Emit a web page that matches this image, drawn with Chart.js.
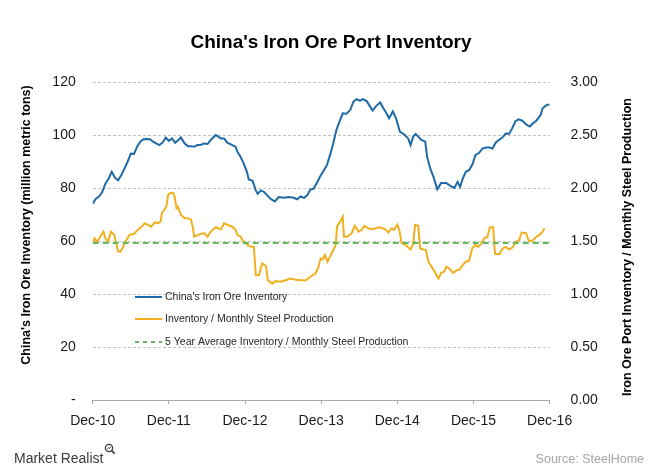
<!DOCTYPE html>
<html><head><meta charset="utf-8">
<script src="https://cdn.jsdelivr.net/npm/chart.js@4.4.0/dist/chart.umd.min.js"></script>
<style>
html,body{margin:0;padding:0;background:#fff;}
#wrap{position:relative;width:660px;height:471px;overflow:hidden;background:#fff;}
#c{position:absolute;left:0;top:0;}
.logo{position:absolute;left:14px;top:450px;font-family:'Liberation Sans',Arial,sans-serif;font-size:14px;color:#3a3a3a;line-height:16px;white-space:nowrap;}
.logo svg{position:absolute;left:90px;top:-7px;}
.src{position:absolute;right:16px;top:451px;font-family:'Liberation Sans',Arial,sans-serif;font-size:12.5px;color:#a6a6a6;line-height:16px;white-space:nowrap;}
</style></head>
<body><div id="wrap"><canvas id="c" width="660" height="471"></canvas>
<div class="logo">Market Realist<svg width="12" height="12" viewBox="0 0 12 12"><circle cx="5" cy="5" r="3.6" fill="none" stroke="#3a3a3a" stroke-width="1.3"/><path d="M3.3 6.2 L4.6 4.6 L5.6 5.4 L6.8 3.8" fill="none" stroke="#3a3a3a" stroke-width="0.9"/><line x1="7.6" y1="7.6" x2="10.8" y2="10.8" stroke="#3a3a3a" stroke-width="1.6"/></svg></div>
<div class="src">Source: SteelHome</div></div>
<script>
// ---- Data (x = months since Dec-10) ----
const chartTitle = "China's Iron Ore Port Inventory";
const leftAxisTitle = "China's Iron Ore Inventory (million metric tons)";
const rightAxisTitle = "Iron Ore Port Inventory / Monthly Steel Production";
const xTickLabels = ['Dec-10','Dec-11','Dec-12','Dec-13','Dec-14','Dec-15','Dec-16'];
const seriesNames = ["China's Iron Ore Inventory", "Inventory / Monthly Steel Production", "5 Year Average Inventory / Monthly Steel Production"];

// China's iron ore inventory (million metric tons)
const inventory = [
 [0,74.1],[0.5,76],[1,76.8],[1.5,78.5],[2,81.6],[2.5,83.5],[3,86.1],[3.5,83.9],[4,82.9],[4.5,84.8],
 [5,87.3],[5.5,89.9],[6,93],[6.5,92.8],[7,95.6],[7.5,97.5],[8,98.4],[8.5,98.5],[9,98.4],[9.5,97.5],
 [10,96.8],[10.5,96.2],[11,97.1],[11.5,99],[12,97.8],[12.5,98.7],[13,97.1],[13.5,98.1],[13.9,99.1],[14.5,96.8],
 [15,95.8],[15.5,95.8],[16,95.6],[16.5,96.2],[17,96.2],[17.5,96.8],[18.1,96.6],[18.6,98.1],[19.4,100],[20.2,98.7],
 [20.7,98.7],[21.2,97.1],[22,96.2],[22.5,95.6],[22.8,93.7],[23.3,91.8],[23.8,89.2],[24.3,86.1],[24.6,83.2],[25.2,82.7],
 [25.7,79.1],[26,77.8],[26.5,79.1],[27,78.5],[27.5,77.2],[28,76],[28.7,74.9],[29.3,76.6],[30.1,76.3],[30.9,76.6],
 [31.7,76.3],[32.2,75.7],[32.8,76.8],[33.3,76.3],[33.8,77.2],[34.3,79.4],[34.8,79.7],[35.4,82.3],[35.9,84.6],[36.3,86.1],
 [36.9,88.6],[37.4,92.4],[37.9,96.8],[38.4,101.9],[39,105.7],[39.4,108.2],[40,108],[40.6,109.5],[41.1,112.7],[41.6,113.5],
 [42.1,113],[42.6,113.5],[43.2,112.7],[43.7,110.8],[44.1,109.2],[44.7,111],[45.3,112.3],[45.8,110.1],[46.3,108.2],[46.7,106.3],
 [47.3,108.9],[47.8,106.3],[48.4,101.3],[49.2,100],[49.7,98.7],[50.1,96.2],[50.5,99.4],[50.9,100.4],[51.3,99.4],[51.8,98.1],
 [52.4,97.5],[52.7,91.8],[53.2,87.3],[53.7,84.2],[54.3,79.5],[54.9,81.9],[55.7,81.9],[56.5,80.6],[57,80],[57.5,82.3],
 [57.9,80.4],[58.3,83.5],[58.8,86.1],[59.3,86.7],[59.9,89.2],[60.3,92.4],[60.9,93.3],[61.4,94.9],[62,95.3],[62.5,95.3],
 [63,94.9],[63.5,97.1],[64,98.1],[64.6,99.1],[65.1,100.6],[65.6,100.4],[66.1,102.5],[66.6,105.1],[67.1,105.9],[67.7,105.4],
 [68.4,103.8],[68.9,103.2],[69.4,104.4],[69.9,105.4],[70.6,107.6],[70.9,110.1],[71.6,111.4],[72,111.4]
];

// Inventory / monthly steel production (ratio)
const ratio = [
 [0,1.478],[0.3,1.525],[0.7,1.493],[1.2,1.54],[1.7,1.588],[2,1.525],[2.4,1.493],[2.9,1.588],[3.4,1.558],[3.7,1.478],
 [4,1.40],[4.4,1.40],[4.8,1.445],[5.3,1.51],[5.8,1.558],[6.5,1.568],[7.1,1.605],[7.7,1.635],[8.2,1.668],[8.7,1.653],
 [9.2,1.635],[9.8,1.675],[10.3,1.668],[10.7,1.683],[10.9,1.763],[11.3,1.795],[11.6,1.825],[11.9,1.938],[12.3,1.953],[12.7,1.953],
 [12.9,1.92],[13.2,1.81],[13.4,1.825],[13.9,1.748],[14.5,1.715],[15,1.715],[15.5,1.70],[15.8,1.62],[16,1.54],[16.6,1.558],
 [17.1,1.568],[17.6,1.573],[18.1,1.54],[18.6,1.588],[19.4,1.63],[20.2,1.61],[20.7,1.668],[21.2,1.653],[22,1.635],[22.5,1.605],
 [22.8,1.558],[23.3,1.54],[23.8,1.493],[24.4,1.463],[24.9,1.445],[25.4,1.445],[25.7,1.178],[26.2,1.178],[26.7,1.288],[27.3,1.263],
 [27.6,1.13],[28.3,1.098],[28.8,1.123],[29.6,1.115],[30.4,1.13],[31.2,1.145],[32,1.135],[32.8,1.13],[33.6,1.13],[34.3,1.163],
 [35.1,1.193],[35.6,1.258],[35.9,1.335],[36.2,1.325],[36.6,1.368],[37,1.305],[37.4,1.353],[37.9,1.415],[38.3,1.463],[38.5,1.635],
 [39,1.683],[39.4,1.73],[39.6,1.54],[40.1,1.54],[40.8,1.573],[41.3,1.643],[41.9,1.588],[42.4,1.605],[42.8,1.643],[43.4,1.62],
 [44,1.61],[44.5,1.62],[45.3,1.63],[46.1,1.61],[46.6,1.58],[47.1,1.62],[47.5,1.605],[48,1.653],[48.3,1.605],[48.7,1.478],
 [49.3,1.463],[49.7,1.44],[50.1,1.42],[50.5,1.473],[50.8,1.653],[51.3,1.643],[51.6,1.43],[52.1,1.42],[52.5,1.415],[52.9,1.305],
 [53.4,1.258],[53.9,1.21],[54.3,1.163],[54.5,1.145],[54.9,1.20],[55.4,1.21],[55.7,1.258],[56.2,1.24],[56.8,1.20],[57.4,1.225],
 [57.8,1.23],[58.3,1.273],[58.8,1.305],[59.3,1.313],[59.8,1.43],[60.3,1.463],[60.7,1.445],[61.2,1.473],[61.7,1.525],[62.2,1.54],
 [62.6,1.63],[63.1,1.63],[63.4,1.378],[64.1,1.378],[64.6,1.43],[65.1,1.445],[65.6,1.42],[66.2,1.44],[66.7,1.493],[67.2,1.51],
 [67.6,1.58],[68.3,1.573],[68.7,1.503],[69.3,1.503],[69.9,1.54],[70.4,1.558],[70.9,1.588],[71.2,1.62]
];

// 5 year average ratio
const fiveYearAvg = 1.48;
const avgRange = [0, 72];

const colors = { inv: '#1f6aa5', ratio: '#f0b020', avg: '#62b85a' };
const FONT = "'Liberation Sans', Arial, sans-serif";

const textPlugin = {
  id: 'texts',
  afterDraw(chart) {
    const ctx = chart.ctx;
    ctx.save();
    ctx.fillStyle = '#000';
    ctx.textAlign = 'center';
    ctx.textBaseline = 'middle';
    ctx.font = 'bold 19px ' + FONT;
    ctx.fillText(chartTitle, 331, 43);

    ctx.font = 'bold 12.5px ' + FONT;
    ctx.save(); ctx.translate(27, 225); ctx.rotate(-Math.PI / 2); ctx.fillText(leftAxisTitle, 0, 0); ctx.restore();
    ctx.save(); ctx.translate(628, 247); ctx.rotate(-Math.PI / 2); ctx.fillText(rightAxisTitle, 0, 0); ctx.restore();

    // legend
    const items = [
      { c: colors.inv, dash: [], y: 297 },
      { c: colors.ratio, dash: [], y: 319 },
      { c: colors.avg, dash: [4, 4], y: 342 }
    ];
    ctx.font = '10.5px ' + FONT;
    ctx.textAlign = 'left';
    items.forEach((it, i) => {
      ctx.beginPath();
      ctx.setLineDash(it.dash);
      ctx.strokeStyle = it.c;
      ctx.lineWidth = 2;
      ctx.moveTo(135, it.y); ctx.lineTo(162, it.y);
      ctx.stroke();
      ctx.setLineDash([]);
      ctx.fillStyle = '#262626';
      ctx.fillText(seriesNames[i], 165, it.y);
    });
    ctx.restore();
  }
};

new Chart(document.getElementById('c'), {
  type: 'line',
  data: {
    datasets: [
      { label: seriesNames[0], data: inventory.map(([x, y]) => ({ x, y })), yAxisID: 'y',
        borderColor: colors.inv, borderWidth: 2, pointRadius: 0, tension: 0, order: 2 },
      { label: seriesNames[1], data: ratio.map(([x, y]) => ({ x, y })), yAxisID: 'y1',
        borderColor: colors.ratio, borderWidth: 2, pointRadius: 0, tension: 0, order: 3 },
      { label: seriesNames[2], data: avgRange.map(x => ({ x, y: fiveYearAvg })), yAxisID: 'y1',
        borderColor: colors.avg, borderWidth: 2, borderDash: [6, 4], pointRadius: 0, tension: 0, order: 1 }
    ]
  },
  options: {
    responsive: false,
    animation: false,
    events: [],
    layout: { padding: { top: 82, left: 0, right: 0, bottom: 0 } },
    plugins: { legend: { display: false }, title: { display: false }, tooltip: { enabled: false } },
    scales: {
      x: {
        type: 'linear', min: 0, max: 72,
        afterBuildTicks: s => { s.ticks = xTickLabels.map((_, i) => ({ value: i * 12 })); },
        afterFit: s => { s.height = 71; },
        ticks: { callback: (v, i) => xTickLabels[i], font: { size: 14, family: FONT }, color: '#1a1a1a', padding: 9, maxRotation: 0, autoSkip: false },
        grid: { drawOnChartArea: false, drawTicks: true, tickLength: 4, color: '#a9a9a9' },
        border: { display: true, color: '#a9a9a9', width: 1 }
      },
      y: {
        position: 'left', min: 0, max: 120,
        afterFit: s => { s.width = 92.7; },
        ticks: { stepSize: 20, callback: v => v === 0 ? '-' : String(v), font: { size: 14, family: FONT }, color: '#1a1a1a', padding: 17 },
        grid: { drawTicks: false, color: ctx => ctx.tick && ctx.tick.value === 0 ? 'rgba(0,0,0,0)' : '#c4c4c4', lineWidth: 1 },
        border: { display: false, dash: [3, 2] }
      },
      y1: {
        position: 'right', min: 0, max: 3,
        afterFit: s => { s.width = 110.4; },
        ticks: { stepSize: 0.5, callback: v => Number(v).toFixed(2), font: { size: 14, family: FONT }, color: '#1a1a1a', padding: 13 },
        grid: { display: false, drawOnChartArea: false },
        border: { display: false }
      }
    }
  },
  plugins: [textPlugin]
});
</script>
</body></html>
